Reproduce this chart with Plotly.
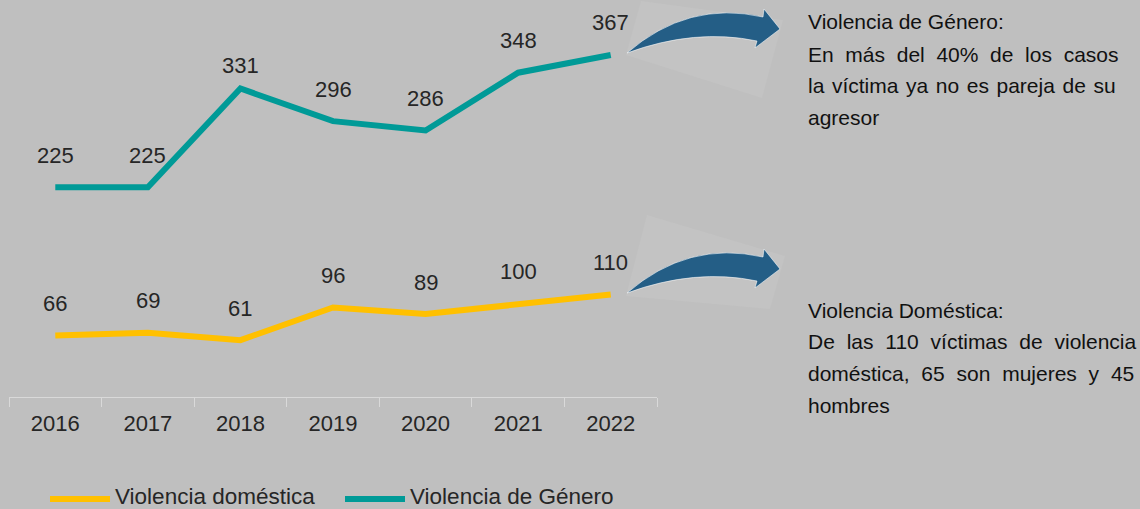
import plotly.graph_objects as go

years = ["2016", "2017", "2018", "2019", "2020", "2021", "2022"]
domestica = [66, 69, 61, 96, 89, 100, 110]
genero = [225, 225, 331, 296, 286, 348, 367]

genero_notes = [
    "Violencia de Género:",
    "En más del 40% de los casos",
    "la víctima ya no es pareja de su",
    "agresor",
]
domestica_notes = [
    "Violencia Doméstica:",
    "De las 110 víctimas de violencia",
    "doméstica, 65 son mujeres y 45",
    "hombres",
]

BG = "#bfbfbf"
TEAL = "#009a97"
GOLD = "#ffc000"
ARROW = "#245e86"
TEXT = "#262626"
NOTE = "#111111"
FONT = "Liberation Sans, Arial, sans-serif"

W, H = 1140, 509
PL, PR, PT, PB = 9, 657, 0, 397


def paper(x, y):
    return (x - PL) / (PR - PL), (PB - y) / (PB - PT)


def path(cmds):
    out = []
    for cmd in cmds:
        letter, pts = cmd[0], cmd[1:]
        coords = " ".join("%.5f,%.5f" % paper(*p) for p in pts)
        out.append(letter + coords)
    return " ".join(out) + " Z"


def arrow(dy):
    return path([
        ("M", (627, 53 + dy)),
        ("Q", (688, 0 + dy), (763, 17 + dy)),
        ("L", (764, 9 + dy)),
        ("L", (780, 29 + dy)),
        ("L", (755, 48 + dy)),
        ("L", (757, 41 + dy)),
        ("Q", (695, 28 + dy), (627, 53 + dy)),
    ])


def glow(pts):
    return path([("M", pts[0])] + [("L", p) for p in pts[1:]])


def justify(line, gap):
    return line if gap is None else gap.join(line.split(" "))


fig = go.Figure()
fig.add_trace(go.Scatter(x=years, y=genero, mode="lines", name="Violencia de Género",
                         line=dict(color=TEAL, width=6), hoverinfo="skip"))
fig.add_trace(go.Scatter(x=years, y=domestica, mode="lines", name="Violencia doméstica",
                         line=dict(color=GOLD, width=6), hoverinfo="skip"))

annotations = []
# the 2018 label sits closer to its peak in the original
label_shift = {("genero", 2): 23}
for key, series in (("genero", genero), ("domestica", domestica)):
    # category axes place annotations by category index
    for i, v in enumerate(series):
        annotations.append(dict(x=i, y=v, text=str(v), showarrow=False,
                                yshift=label_shift.get((key, i), 32),
                                font=dict(size=22, color=TEXT, family=FONT)))

gaps = [None, "\u00a0\u00a0", "\u00a0\u200a", None]
gaps2 = [None, "\u00a0\u2009\u200a", "\u00a0\u2009\u200a", None]
for notes, g, tops in ((genero_notes, gaps, [22, 54, 85, 117]),
                       (domestica_notes, gaps2, [310, 341, 373, 405])):
    for line, gap, yy in zip(notes, g, tops):
        x, y = paper(806, yy)
        annotations.append(dict(x=x, y=y, xref="paper", yref="paper", xanchor="left",
                                yanchor="middle", text=justify(line, gap), showarrow=False,
                                font=dict(size=21, color=NOTE, family=FONT)))

# legend drawn by hand to match the thick, long line samples
shapes = []
for (x0, x1, tx), color, label in (((50, 110, 113), GOLD, "Violencia doméstica"),
                                   ((345, 405, 408), TEAL, "Violencia de Género")):
    a, b = paper(x0, 499)
    c, _ = paper(x1, 499)
    shapes.append(dict(type="line", xref="paper", yref="paper", x0=a, x1=c, y0=b, y1=b,
                       line=dict(color=color, width=6)))
    tx_, ty_ = paper(tx, 497)
    annotations.append(dict(x=tx_, y=ty_, xref="paper", yref="paper", xanchor="left",
                            yanchor="middle", text=label, showarrow=False,
                            font=dict(size=22.5, color=TEXT, family=FONT)))

for pts in ([(641, 1), (783, 20), (762, 98), (626, 55)],
            [(647, 215), (785, 256), (770, 309), (626, 296)]):
    shapes.append(dict(type="path", xref="paper", yref="paper", path=glow(pts),
                       fillcolor="#c3c3c3", line=dict(width=0), layer="below"))
for dy in (0, 240):
    shapes.append(dict(type="path", xref="paper", yref="paper", path=arrow(dy),
                       fillcolor=ARROW, line=dict(color="rgba(255,255,255,0.55)", width=1)))

fig.update_layout(
    width=W, height=H,
    margin=dict(l=PL, r=W - PR, t=PT, b=H - PB),
    paper_bgcolor=BG, plot_bgcolor=BG,
    showlegend=False,
    font=dict(family=FONT, color=TEXT),
    xaxis=dict(type="category", range=[-0.5, 6.5], showgrid=False, showline=True,
               linecolor="#d9d9d9", linewidth=1, ticks="outside", ticklen=9,
               tickcolor="#d9d9d9", tickson="boundaries", ticklabelstandoff=7,
               tickfont=dict(size=22, color=TEXT, family=FONT), zeroline=False),
    yaxis=dict(range=[0, 426], visible=False),
    annotations=annotations,
    shapes=shapes,
)

fig.write_html("out.html", config={"displayModeBar": False},
               post_script="document.body.style.margin='0';")
